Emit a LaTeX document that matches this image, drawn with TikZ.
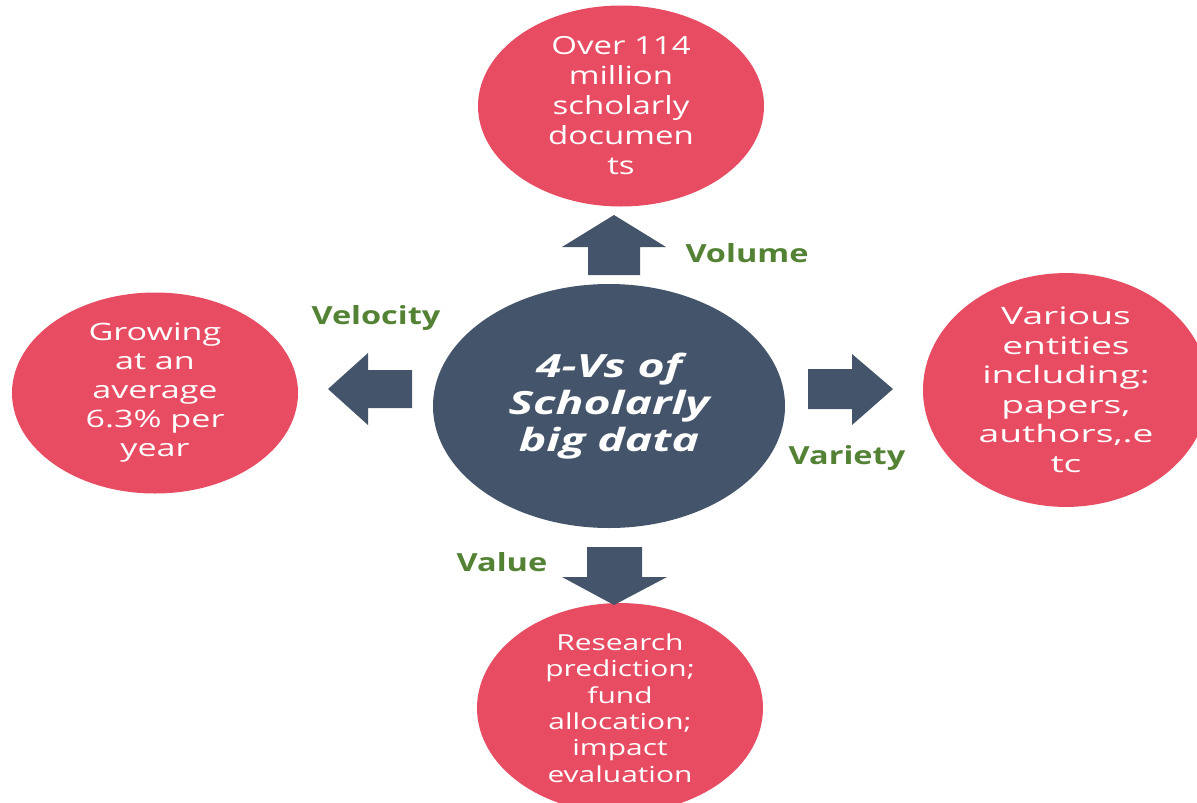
\documentclass[tikz,border=0pt]{standalone}
\usepackage{fontspec}
\setmainfont{Open Sans}
\usetikzlibrary{shapes.geometric}
\definecolor{vpink}{HTML}{E84C62}
\definecolor{vslate}{HTML}{44546A}
\definecolor{vgreen}{HTML}{548235}
% font size, leading and horizontal stretch in one go
\newcommand{\vfont}[3]{\fontsize{#1}{#2}\selectfont\addfontfeatures{FakeStretch=#3}}
\begin{document}
\begin{tikzpicture}[x=1pt,y=-1pt,
  outer/.style={ellipse, fill=vpink, inner sep=0pt, text=white, align=center,
    minimum width=286pt, minimum height=201pt},
  hubnode/.style={ellipse, fill=vslate, inner sep=0pt, text=white, align=center,
    minimum width=352pt, minimum height=244pt,
    font=\bfseries\itshape\vfont{32}{37}{1.45}},
  vlabel/.style={text=vgreen, font=\bfseries\vfont{25}{29}{1.3}, inner sep=0pt},
  blockarrow/.style={fill=vslate}]
\useasboundingbox (0,0) rectangle (1197,803);

% central topic
\node[hubnode] (hub) at (609,406) {4-Vs of\\Scholarly\\big data};

% the four characteristics
\node[outer, font=\vfont{25}{30}{1.32}] (volume) at (621,106)
  {Over 114\\million\\scholarly\\documen\\ts};
\node[outer, font=\vfont{24}{29}{1.42}] (velocity) at (155,393)
  {Growing\\at an\\average\\6.3\% per\\year};
\node[outer, font=\vfont{24}{29.5}{1.55}] (variety) at (1066,390)
  {Various\\entities\\including:\\papers,\\authors,.e\\tc};
\node[outer, font=\vfont{22}{26.3}{1.36}] (value) at (620,708)
  {Research\\prediction;\\fund\\allocation;\\impact\\evaluation};

% block arrows from the hub outwards
\fill[blockarrow] (588,275) -- (588,247) -- (562,247) -- (614,215)
  -- (666,247) -- (640,247) -- (640,275) -- cycle;
\fill[blockarrow] (412,370) -- (368,370) -- (368,353) -- (328,389)
  -- (368,425) -- (368,408) -- (412,408) -- cycle;
\fill[blockarrow] (808,369) -- (852,369) -- (852,354) -- (893,389)
  -- (852,425) -- (852,409) -- (808,409) -- cycle;
\fill[blockarrow] (587,547) -- (587,577) -- (562,577) -- (614,605)
  -- (667,577) -- (642,577) -- (642,547) -- cycle;

% arrow labels
\node[vlabel] (lvolume) at (747,253) {Volume};
\node[vlabel] (lvelocity) at (376,318) {Velocity};
\node[vlabel] (lvariety) at (847,458) {Variety};
\node[vlabel] (lvalue) at (502,562) {Value};
\end{tikzpicture}
\end{document}
